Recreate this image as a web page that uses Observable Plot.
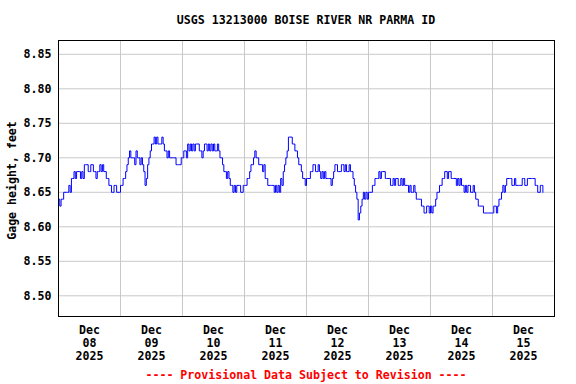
<!DOCTYPE html>
<html><head><meta charset="utf-8">
<script src="https://cdn.jsdelivr.net/npm/d3@7"></script>
<script src="https://cdn.jsdelivr.net/npm/@observablehq/plot@0.6"></script>
<style>
body{margin:0;background:#fff;width:576px;height:384px;overflow:hidden;font-family:"DejaVu Sans Mono",monospace;font-weight:bold;}
#title{height:17px;padding-top:13px;padding-left:36px;line-height:14px;font-size:11.6px;text-align:center;color:#000;}
#chart{height:336px;}
#caption{height:18px;line-height:18px;padding-left:36px;font-size:11.6px;text-align:center;color:#ff0000;}
svg{display:block;}
</style></head>
<body>
<div id="title">USGS 13213000 BOISE RIVER NR PARMA ID</div>
<div id="chart"></div>
<div id="caption">---- Provisional Data Subject to Revision ----</div>
<script>
// Half-hourly gage height readings (feet), starting 00:00 each day
const dec08 = [8.64,8.63, 8.64,8.64, 8.65,8.65, 8.65,8.65, 8.66,8.65, 8.67,8.67, 8.68,8.67, 8.68,8.68,
  8.68,8.67, 8.68,8.67, 8.69,8.69, 8.69,8.68, 8.68,8.69, 8.69,8.68, 8.68,8.67, 8.68,8.68,
  8.69,8.68, 8.69,8.68, 8.68,8.67, 8.67,8.66, 8.66,8.65, 8.65,8.66, 8.66,8.65, 8.65,8.65];
const dec09 = [8.66,8.66, 8.67,8.67, 8.68,8.69, 8.70,8.71, 8.70,8.70, 8.70,8.69, 8.71,8.70, 8.70,8.69,
  8.70,8.69, 8.68,8.66, 8.67,8.69, 8.70,8.71, 8.72,8.72, 8.73,8.72, 8.73,8.72, 8.72,8.72,
  8.73,8.72, 8.71,8.71, 8.70,8.71, 8.70,8.70, 8.70,8.70, 8.70,8.69, 8.69,8.69, 8.69,8.70];
const dec10 = [8.70,8.71, 8.71,8.70, 8.72,8.71, 8.72,8.71, 8.72,8.71, 8.72,8.72, 8.72,8.71, 8.71,8.70,
  8.71,8.72, 8.72,8.71, 8.72,8.71, 8.72,8.71, 8.72,8.71, 8.71,8.72, 8.71,8.70, 8.70,8.69,
  8.68,8.68, 8.67,8.68, 8.67,8.66, 8.66,8.65, 8.66,8.65, 8.66,8.66, 8.66,8.65, 8.65,8.66];
const dec11 = [8.66,8.66, 8.67,8.67, 8.68,8.69, 8.69,8.70, 8.71,8.70, 8.70,8.69, 8.69,8.69, 8.68,8.69,
  8.67,8.67, 8.66,8.66, 8.66,8.66, 8.66,8.65, 8.66,8.65, 8.66,8.65, 8.67,8.66, 8.68,8.69,
  8.70,8.71, 8.73,8.73, 8.73,8.72, 8.72,8.71, 8.71,8.70, 8.69,8.69, 8.68,8.67, 8.67,8.66];
const dec12 = [8.67,8.67, 8.67,8.68, 8.68,8.69, 8.69,8.68, 8.68,8.69, 8.68,8.67, 8.68,8.67, 8.68,8.67,
  8.67,8.67, 8.67,8.66, 8.67,8.68, 8.69,8.69, 8.68,8.68, 8.68,8.69, 8.69,8.68, 8.69,8.68,
  8.68,8.69, 8.68,8.68, 8.67,8.66, 8.65,8.64, 8.61,8.62, 8.63,8.64, 8.65,8.64, 8.65,8.64];
const dec13 = [8.65,8.65, 8.65,8.66, 8.66,8.67, 8.67,8.67, 8.68,8.67, 8.68,8.68, 8.68,8.67, 8.67,8.67,
  8.67,8.66, 8.66,8.67, 8.66,8.67, 8.67,8.66, 8.66,8.67, 8.66,8.67, 8.66,8.66, 8.66,8.65,
  8.66,8.65, 8.65,8.66, 8.65,8.64, 8.64,8.64, 8.64,8.63, 8.63,8.62, 8.62,8.63, 8.63,8.62];
const dec14 = [8.63,8.62, 8.63,8.63, 8.64,8.65, 8.65,8.66, 8.66,8.67, 8.67,8.68, 8.68,8.67, 8.68,8.68,
  8.67,8.67, 8.67,8.67, 8.66,8.67, 8.66,8.67, 8.66,8.66, 8.65,8.66, 8.65,8.66, 8.66,8.65,
  8.65,8.66, 8.65,8.64, 8.64,8.63, 8.63,8.63, 8.63,8.62, 8.62,8.62, 8.62,8.62, 8.62,8.62];
const dec15 = [8.62,8.63, 8.63,8.62, 8.63,8.64, 8.64,8.65, 8.66,8.65, 8.66,8.67, 8.67,8.67, 8.67,8.66,
  8.66,8.67, 8.66,8.66, 8.66,8.66, 8.66,8.67, 8.67,8.66, 8.66,8.67, 8.67,8.67, 8.67,8.67,
  8.67,8.66, 8.66,8.65, 8.65,8.66, 8.66,8.65];

const days = [8, 9, 10, 11, 12, 13, 14, 15];
const monthNames = ["Jan","Feb","Mar","Apr","May","Jun","Jul","Aug","Sep","Oct","Nov","Dec"];
const yTicks = [8.50, 8.55, 8.60, 8.65, 8.70, 8.75, 8.80, 8.85];
const yDomain = [8.47, 8.87];
const yLabel = "Gage height, feet";

const series = [dec08, dec09, dec10, dec11, dec12, dec13, dec14, dec15];
const HALF = 30 * 60 * 1000;
const data = [];
series.forEach((vals, k) => {
  const start = Date.UTC(2025, 11, days[k]);
  vals.forEach((v, i) => data.push({t: new Date(start + i * HALF), v}));
});

const xDomain = [new Date(Date.UTC(2025, 11, 8)), new Date(Date.UTC(2025, 11, 16))];
const midnights = days.slice(1).map(d => new Date(Date.UTC(2025, 11, d)));
const noons = days.map(d => new Date(Date.UTC(2025, 11, d, 12)));
const fmt = d => `${monthNames[d.getUTCMonth()]}\n${String(d.getUTCDate()).padStart(2, "0")}\n${d.getUTCFullYear()}`;

const chart = Plot.plot({
  width: 576,
  height: 336,
  marginTop: 10,
  marginBottom: 50,
  marginLeft: 58,
  marginRight: 22,
  style: {fontFamily: "'DejaVu Sans Mono', monospace", fontWeight: "bold", fontSize: "11.6px", color: "#000", background: "#fff"},
  x: {type: "utc", domain: xDomain},
  y: {domain: yDomain},
  marks: [
    Plot.gridX(midnights, {stroke: "#c8c8c8", strokeOpacity: 1, strokeWidth: 1}),
    Plot.gridY(yTicks, {stroke: "#c8c8c8", strokeOpacity: 1, strokeWidth: 1}),
    Plot.line(data, {x: "t", y: "v", stroke: "#0000ff", strokeWidth: 1, curve: "step-after"}),
    Plot.frame({stroke: "#000", strokeWidth: 1}),
    Plot.axisY(yTicks, {tickSize: 0, tickPadding: 7, tickFormat: d => d.toFixed(2), label: null}),
    Plot.axisX(noons, {tickSize: 0, tickPadding: 8, tickFormat: fmt, label: null, lineHeight: 1.13}),
    Plot.text([yLabel], {frameAnchor: "left", dx: -46, dy: 2, rotate: -90, textAnchor: "middle", text: d => d})
  ]
});
document.getElementById("chart").append(chart);
</script>
</body></html>
